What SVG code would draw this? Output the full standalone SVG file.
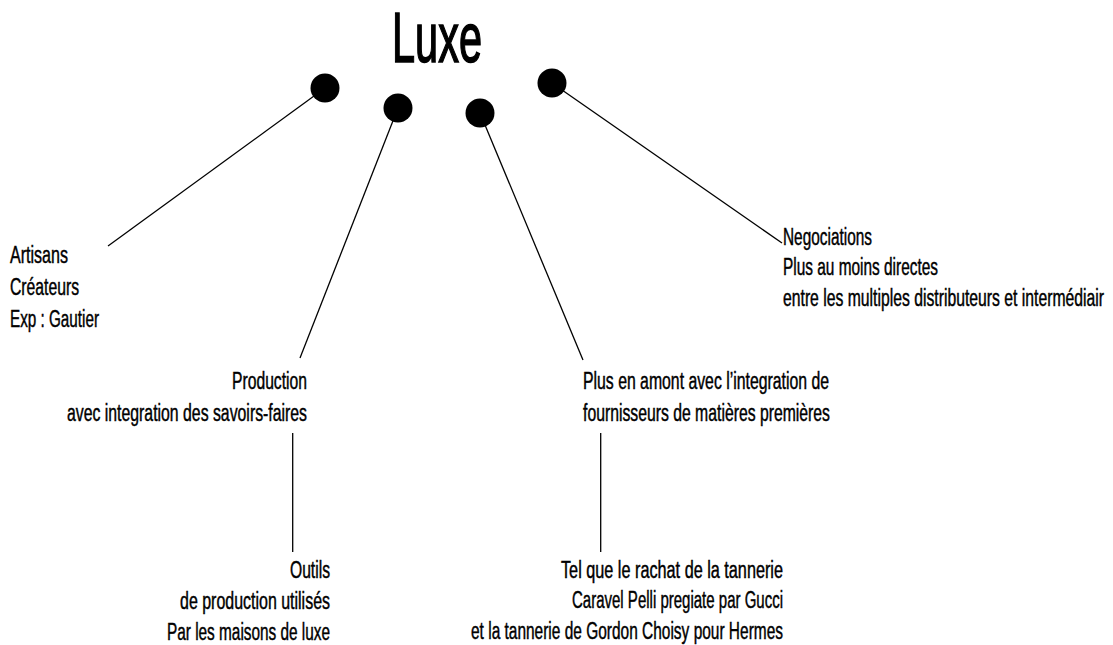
<svg xmlns="http://www.w3.org/2000/svg" width="1113" height="645" viewBox="0 0 1113 645">
<style>
text{font-family:"Liberation Sans Narrow","Liberation Sans",Arial,sans-serif;fill:#000;stroke:#000}
.t{font-size:23px;stroke-width:0.45}
.r{text-anchor:end}
.ttl{font-size:70px;stroke-width:1.6}
.ln{stroke:#000;stroke-width:1.3;fill:none}
.dot{fill:#000}
</style>
<rect width="1113" height="645" fill="#fff"/>
<g id="title"><text class="ttl" x="392" y="62" textLength="90" lengthAdjust="spacingAndGlyphs">Luxe</text></g>
<g id="connectors">
<line class="ln" x1="325" y1="88" x2="108" y2="246"/>
<line class="ln" x1="398" y1="108" x2="300" y2="358"/>
<line class="ln" x1="480" y1="113" x2="583" y2="360"/>
<line class="ln" x1="552" y1="83" x2="782" y2="243"/>
<line class="ln" x1="292.7" y1="433" x2="292.7" y2="552"/>
<line class="ln" x1="600.7" y1="433" x2="600.7" y2="552"/>
</g>
<g id="dots">
<circle class="dot" cx="325" cy="88" r="14.5"/>
<circle class="dot" cx="398" cy="108" r="14.5"/>
<circle class="dot" cx="480" cy="113" r="14.5"/>
<circle class="dot" cx="552" cy="83" r="14.5"/>
</g>
<g id="artisans">
<text class="t" x="10" y="263" textLength="58" lengthAdjust="spacingAndGlyphs">Artisans</text>
<text class="t" x="10" y="295" textLength="69" lengthAdjust="spacingAndGlyphs">Créateurs</text>
<text class="t" x="10" y="327" textLength="89" lengthAdjust="spacingAndGlyphs">Exp : Gautier</text>
</g>
<g id="negociations">
<text class="t" x="783" y="245" textLength="89" lengthAdjust="spacingAndGlyphs">Negociations</text>
<text class="t" x="783" y="275" textLength="155" lengthAdjust="spacingAndGlyphs">Plus au moins directes</text>
<text class="t" x="783" y="306" textLength="321" lengthAdjust="spacingAndGlyphs">entre les multiples distributeurs et intermédiair</text>
</g>
<g id="production">
<text class="t r" x="307" y="389" textLength="75" lengthAdjust="spacingAndGlyphs">Production</text>
<text class="t r" x="307" y="421" textLength="240" lengthAdjust="spacingAndGlyphs">avec integration des savoirs-faires</text>
</g>
<g id="amont">
<text class="t" x="583" y="389" textLength="246" lengthAdjust="spacingAndGlyphs">Plus en amont avec l’integration de</text>
<text class="t" x="583" y="421" textLength="247" lengthAdjust="spacingAndGlyphs">fournisseurs de matières premières</text>
</g>
<g id="outils">
<text class="t r" x="330" y="578" textLength="40" lengthAdjust="spacingAndGlyphs">Outils</text>
<text class="t r" x="330" y="609" textLength="150" lengthAdjust="spacingAndGlyphs">de production utilisés</text>
<text class="t r" x="330" y="640" textLength="163" lengthAdjust="spacingAndGlyphs">Par les maisons de luxe</text>
</g>
<g id="tannerie">
<text class="t r" x="783" y="578" textLength="222" lengthAdjust="spacingAndGlyphs">Tel que le rachat de la tannerie</text>
<text class="t r" x="783" y="608" textLength="211" lengthAdjust="spacingAndGlyphs">Caravel Pelli pregiate par Gucci</text>
<text class="t r" x="783" y="639" textLength="312" lengthAdjust="spacingAndGlyphs">et la tannerie de Gordon Choisy pour Hermes</text>
</g>
</svg>
